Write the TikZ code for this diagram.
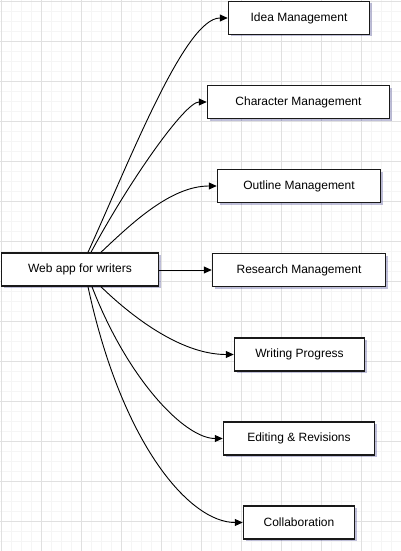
\documentclass[tikz,border=0pt]{standalone}
\usepackage{fontspec}
\setmainfont{Liberation Sans}
\usetikzlibrary{arrows.meta,shadows}
\begin{document}
\begin{tikzpicture}[x=1pt,y=-1pt,
  box/.style={draw=black!90,line width=1.5pt,fill=white,inner sep=0pt,minimum height=33pt,
    font=\fontsize{12}{14}\selectfont,
    drop shadow={shadow xshift=2pt,shadow yshift=-2pt,fill=black!60!blue,opacity=0.25}},
  link/.style={draw=black,line width=0.9pt,-{Triangle[length=8pt,width=7pt]}}]
\useasboundingbox (0,0) rectangle (401,551);
% grid
\foreach \i in {1,11,...,401} \draw[black!4,line width=0.8pt] (\i,0) -- (\i,551);
\foreach \i in {1,11,...,551} \draw[black!4,line width=0.8pt] (0,\i) -- (401,\i);
\foreach \i in {1,41,...,401} \draw[black!12,line width=0.8pt] (\i,0) -- (\i,551);
\foreach \i in {1,41,...,551} \draw[black!12,line width=0.8pt] (0,\i) -- (401,\i);
% nodes
\node[box,minimum width=157pt] (main) at (80,269.5) {Web app for writers};
\node[box,minimum width=141pt] (idea) at (299,18) {Idea Management};
\node[box,minimum width=182pt] (char) at (298.5,102) {Character Management};
\node[box,minimum width=163pt] (outl) at (299,186) {Outline Management};
\node[box,minimum width=173pt] (res) at (299,270) {Research Management};
\node[box,minimum width=130pt] (writ) at (299.5,354.5) {Writing Progress};
\node[box,minimum width=151pt] (edit) at (299,438.5) {Editing \& Revisions};
\node[box,minimum width=111pt] (coll) at (299,522.5) {Collaboration};
% connectors
\draw[link] ([xshift=8pt]main.north) .. controls (130,160) and (185,18) .. (idea.west);
\draw[link] ([xshift=11pt]main.north) .. controls (130,180) and (185,102) .. (char.west);
\draw[link] ([xshift=21pt]main.north) .. controls (130,225) and (170,186) .. (outl.west);
\draw[link] (main.east |- res.west) -- (res.west);
\draw[link] ([xshift=21pt]main.south) .. controls (130,315) and (180,354.5) .. (writ.west);
\draw[link] ([xshift=12pt]main.south) .. controls (128,380) and (185,438.5) .. (edit.west);
\draw[link] ([xshift=8pt]main.south) .. controls (122,445) and (190,522.5) .. (coll.west);
\end{tikzpicture}
\end{document}
